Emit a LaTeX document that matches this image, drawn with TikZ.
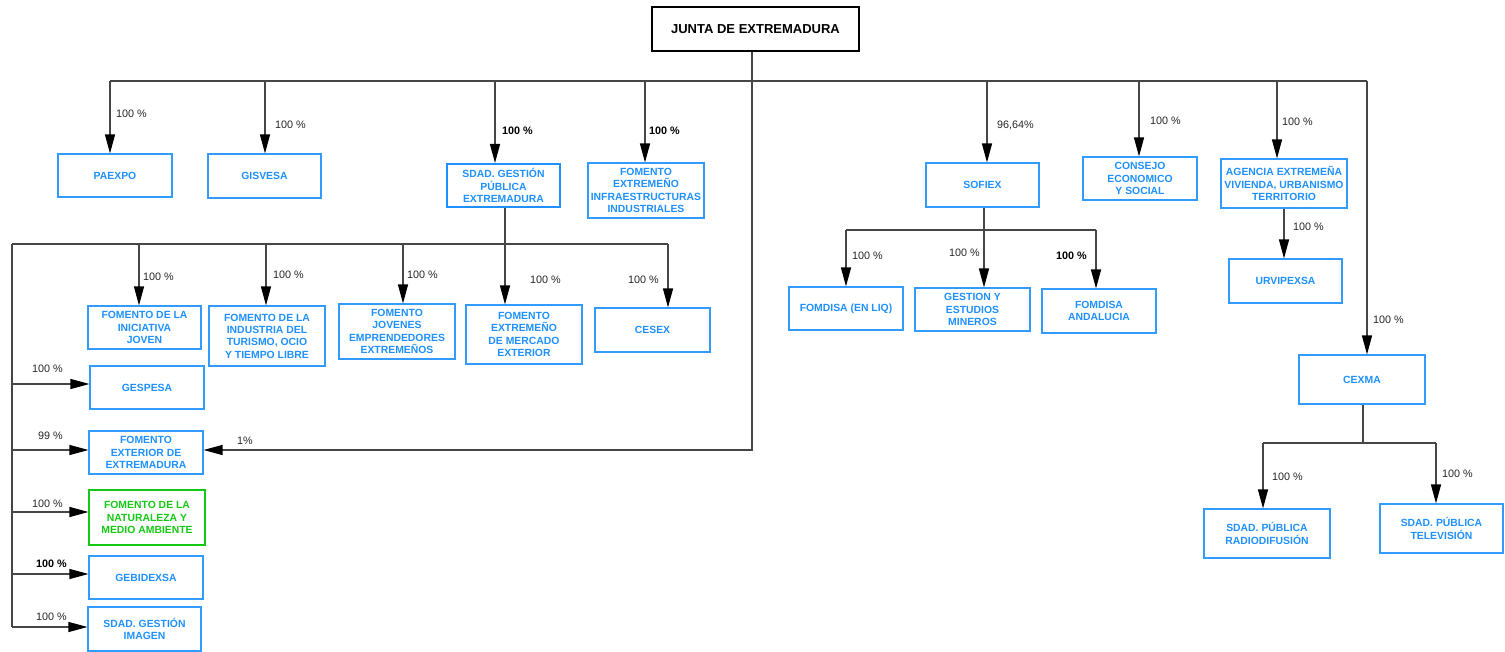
\documentclass[tikz,border=0pt]{standalone}
\usepackage{fontspec}
\setmainfont{Liberation Sans}
\usetikzlibrary{arrows.meta}
\definecolor{boxblue}{RGB}{30,144,255}
\definecolor{boxline}{RGB}{50,155,255}
\definecolor{boxgreen}{RGB}{20,200,20}
\definecolor{lngray}{RGB}{70,70,70}
\begin{document}
\begin{tikzpicture}[x=1pt,y=-1pt,
 box/.style={draw=boxline, line width=1.1pt, text=boxblue, font=\bfseries\fontsize{10.4}{12.3}\selectfont, align=center, inner sep=0pt, rectangle},
 ln/.style={draw=lngray, line width=1.2pt},
 arr/.style={ln, -{Triangle[length=19pt,width=10pt,color=black]}},
 lab/.style={anchor=west, inner sep=0pt, font=\fontsize{10.8}{12}\selectfont, text=black!85},
 blab/.style={lab, font=\bfseries\fontsize{10.8}{12}\selectfont, text=black},
]
\useasboundingbox (0,0) rectangle (1505,652);

% ---------- boxes ----------
\node[box, draw=black, text=black, line width=1.2pt, font=\bfseries\fontsize{13}{15}\selectfont, minimum width=207pt, minimum height=44pt] (junta) at (755.5,29) {JUNTA DE EXTREMADURA};
\node[box, minimum width=114pt, minimum height=43pt] (paexpo) at (115,175.5) {PAEXPO};
\node[box, minimum width=113pt, minimum height=44pt] (gisvesa) at (264.5,176) {GISVESA};
\node[box, draw=boxblue, line width=2pt, minimum width=113pt, minimum height=43pt] (sgpe) at (503.5,185.5) {SDAD. GESTIÓN\\PÚBLICA\\EXTREMADURA};
\node[box, minimum width=116pt, minimum height=55pt] (feii) at (646,190.5) {FOMENTO\\EXTREMEÑO\\INFRAESTRUCTURAS\\INDUSTRIALES};
\node[box, minimum width=113pt, minimum height=44pt] (sofiex) at (982.5,185) {SOFIEX};
\node[box, minimum width=114pt, minimum height=43pt] (consejo) at (1140,178.5) {CONSEJO\\ECONOMICO\\Y SOCIAL};
\node[box, minimum width=126pt, minimum height=49pt] (agencia) at (1284,183.5) {AGENCIA EXTREMEÑA\\VIVIENDA, URBANISMO\\TERRITORIO};
\node[box, minimum width=126pt, minimum height=49pt] (cexma) at (1362,379.5) {CEXMA};
\node[box, minimum width=113pt, minimum height=44pt] (urvipexsa) at (1285.5,281) {URVIPEXSA};
\node[box, minimum width=114pt, minimum height=43pt] (fomliq) at (846,308.5) {FOMDISA (EN LIQ)};
\node[box, minimum width=115pt, minimum height=43pt] (gestion) at (972.5,309.5) {GESTION Y\\ESTUDIOS\\MINEROS};
\node[box, minimum width=114pt, minimum height=44pt] (fomand) at (1099,311) {FOMDISA\\ANDALUCIA};
\node[box, minimum width=126pt, minimum height=49pt] (radio) at (1267,533.5) {SDAD. PÚBLICA\\RADIODIFUSIÓN};
\node[box, minimum width=123pt, minimum height=49pt] (tv) at (1441.5,528.5) {SDAD. PÚBLICA\\TELEVISIÓN};
\node[box, minimum width=113pt, minimum height=43pt] (inic) at (144.5,327.5) {FOMENTO DE LA\\INICIATIVA\\JOVEN};
\node[box, minimum width=116pt, minimum height=60pt] (turismo) at (267,336) {FOMENTO DE LA\\INDUSTRIA DEL\\TURISMO, OCIO\\Y TIEMPO LIBRE};
\node[box, minimum width=116pt, minimum height=55pt] (jovenes) at (397,331.5) {FOMENTO\\JOVENES\\EMPRENDEDORES\\EXTREMEÑOS};
\node[box, minimum width=116pt, minimum height=59pt] (mercado) at (524,334.5) {FOMENTO\\EXTREMEÑO\\DE MERCADO\\EXTERIOR};
\node[box, minimum width=115pt, minimum height=44pt] (cesex) at (652.5,330) {CESEX};
\node[box, minimum width=114pt, minimum height=43pt] (gespesa) at (147,387.5) {GESPESA};
\node[box, minimum width=114pt, minimum height=43pt] (fext) at (146,452.5) {FOMENTO\\EXTERIOR DE\\EXTREMADURA};
\node[box, draw=boxgreen, text=boxgreen, minimum width=116pt, minimum height=55pt] (natur) at (147,517.5) {FOMENTO DE LA\\NATURALEZA Y\\MEDIO AMBIENTE};
\node[box, minimum width=114pt, minimum height=43pt] (gebid) at (146,577.5) {GEBIDEXSA};
\node[box, minimum width=113pt, minimum height=44pt] (imagen) at (144.5,629) {SDAD. GESTIÓN\\IMAGEN};

% ---------- main bus ----------
\coordinate (jtap) at (752,81);
\coordinate (bL) at (110,81);
\coordinate (bR) at (1367,81);
\coordinate (t2) at (265,81);
\coordinate (t3) at (495,81);
\coordinate (t4) at (645,81);
\coordinate (t5) at (987,81);
\coordinate (t6) at (1139,81);
\coordinate (t7) at (1277,81);
\coordinate (c1) at (752,450);
\draw[ln] (jtap |- junta.south) -- (jtap);
\draw[ln] (bL) -- (bR);
\draw[arr] (bL) -- (bL |- paexpo.north);
\draw[arr] (t2) -- (t2 |- gisvesa.north);
\draw[arr] (t3) -- (t3 |- sgpe.north);
\draw[arr] (t4) -- (t4 |- feii.north);
\draw[arr] (t5) -- (t5 |- sofiex.north);
\draw[arr] (t6) -- (t6 |- consejo.north);
\draw[arr] (t7) -- (t7 |- agencia.north);
\draw[arr] (bR) -- (bR |- cexma.north);
\draw[arr] (jtap) -- (c1) -- (c1 -| fext.east);

% ---------- SDAD. GESTION PUBLICA ----------
\coordinate (s0) at (505,244);
\coordinate (sL) at (12,244);
\coordinate (sR) at (668,244);
\coordinate (s1) at (139,244);
\coordinate (s2) at (266,244);
\coordinate (s3) at (403,244);
\coordinate (sB) at (12,627);
\coordinate (h1) at (12,384);
\coordinate (h2) at (12,450);
\coordinate (h3) at (12,512);
\coordinate (h4) at (12,574);
\draw[arr] (s0 |- sgpe.south) -- (s0 |- mercado.north);
\draw[ln] (sL) -- (sR);
\draw[arr] (sR) -- (sR |- cesex.north);
\draw[arr] (s1) -- (s1 |- inic.north);
\draw[arr] (s2) -- (s2 |- turismo.north);
\draw[arr] (s3) -- (s3 |- jovenes.north);
\draw[ln] (sL) -- (sB);
\draw[arr] (sB) -- (sB -| imagen.west);
\draw[arr] (h1) -- (h1 -| gespesa.west);
\draw[arr] (h2) -- (h2 -| fext.west);
\draw[arr] (h3) -- (h3 -| natur.west);
\draw[arr] (h4) -- (h4 -| gebid.west);

% ---------- SOFIEX ----------
\coordinate (f0) at (984,230);
\coordinate (fL) at (846,230);
\coordinate (fR) at (1096,230);
\draw[arr] (f0 |- sofiex.south) -- (f0 |- gestion.north);
\draw[ln] (fL) -- (fR);
\draw[arr] (fL) -- (fL |- fomliq.north);
\draw[arr] (fR) -- (fR |- fomand.north);

% ---------- AGENCIA ----------
\coordinate (a0) at (1284,230);
\draw[arr] (a0 |- agencia.south) -- (a0 |- urvipexsa.north);

% ---------- CEXMA ----------
\coordinate (x0) at (1363,443);
\coordinate (xL) at (1263,443);
\coordinate (xR) at (1436,443);
\draw[ln] (x0 |- cexma.south) -- (x0);
\draw[ln] (xL) -- (xR);
\draw[arr] (xL) -- (xL |- radio.north);
\draw[arr] (xR) -- (xR |- tv.north);

% ---------- labels ----------
\node[lab] (l1) at (116,114) {100 \%};
\node[lab] (l2) at (275,125) {100 \%};
\node[blab] (l3) at (502,131) {100 \%};
\node[blab] (l4) at (649,131) {100 \%};
\node[lab] (l5) at (997,125) {96,64\%};
\node[lab] (l6) at (1150,121) {100 \%};
\node[lab] (l7) at (1282,122) {100 \%};
\node[lab] (l8) at (1373,320) {100 \%};
\node[lab] (l9) at (1293,227) {100 \%};
\node[lab] (l10) at (852,256) {100 \%};
\node[lab] (l11) at (949,253) {100 \%};
\node[blab] (l12) at (1056,256) {100 \%};
\node[lab] (l13) at (143,277) {100 \%};
\node[lab] (l14) at (273,275) {100 \%};
\node[lab] (l15) at (407,275) {100 \%};
\node[lab] (l16) at (530,280) {100 \%};
\node[lab] (l17) at (628,280) {100 \%};
\node[lab] (l18) at (32,369) {100 \%};
\node[lab] (l19) at (38,436) {99 \%};
\node[lab] (l20) at (237,441) {1\%};
\node[lab] (l21) at (32,504) {100 \%};
\node[blab] (l22) at (36,564) {100 \%};
\node[lab] (l23) at (36,617) {100 \%};
\node[lab] (l24) at (1272,477) {100 \%};
\node[lab] (l25) at (1442,474) {100 \%};
\end{tikzpicture}
\end{document}
